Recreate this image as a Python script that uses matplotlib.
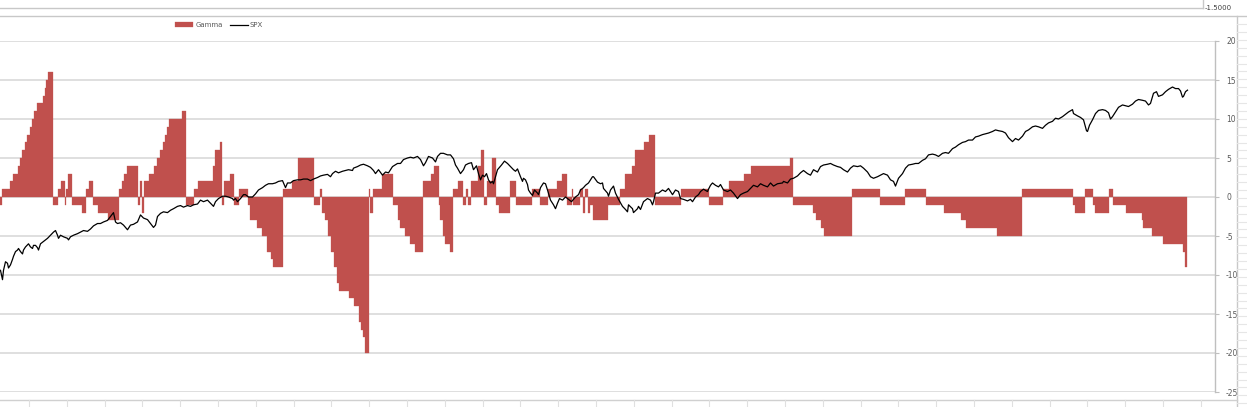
import numpy as np
import matplotlib
matplotlib.use("Agg")
import matplotlib.pyplot as plt
from matplotlib.lines import Line2D

W, H = 1247, 407

# Gamma as run-length steps: level and number of trading days it holds
gamma_level = [-1, 1, 2, 3, 4, 5, 6, 7, 8, 9, 10, 11, 12, 13, 14, 15, 16,
               -1, 1, 2, -1, 1, 3, -1, -2, 1, 2, -1, -2, -3, 1, 2, 3, 4,
               -1, 2, -2, 2, 3, 4, 5, 6, 7, 8, 9, 10, 11, -1, 1, 2, 4, 6, 7,
               -1, 2, 3, -1, 1, -1, -3, -4, -5, -7, -8, -9, 1, 2, 5, -1, 1,
               -2, -3, -5, -7, -9, -11, -12, -13, -14, -16, -17, -18, -20,
               1, -2, 1, 3, -1, -3, -4, -5, -6, -7, 2, 3, 4, -1, -3, -5, -6,
               -7, 1, 2, -1, 1, -1, 2, 4, 6, -1, 2, 5, -1, -2, 2, -1, 1, -1,
               1, 2, 3, -1, 1, -1, 1, -2, 1, -2, -1, -3, -1, 1, 3, 4, 6, 7,
               8, -1, 1, -1, 1, 2, 3, 4, 5, -1, -2, -3, -4, -5, 1, -1, 1, -1,
               -2, -3, -4, -5, 1, -1, -2, 1, -1, -2, 1, -1, -2, -3, -4, -5,
               -6, -7, -9]
gamma_days = [2, 8, 3, 5, 2, 2, 3, 2, 3, 2, 2, 3, 6, 2, 1, 2, 5,
              5, 3, 4, 1, 2, 4, 10, 4, 3, 4, 5, 10, 11, 3, 2, 3, 11,
              2, 2, 2, 5, 5, 3, 3, 3, 2, 2, 2, 13, 4, 8, 4, 15, 2, 5, 2,
              2, 6, 4, 5, 9, 2, 7, 5, 5, 4, 2, 10, 9, 6, 16, 6, 2,
              3, 3, 3, 3, 3, 2, 10, 5, 5, 2, 2, 2, 4,
              1, 3, 9, 11, 5, 2, 5, 5, 5, 8, 8, 3, 5, 1, 3, 2, 5,
              3, 5, 5, 3, 2, 3, 7, 3, 3, 3, 5, 4, 3, 11, 6, 16, 8, 8,
              9, 5, 5, 5, 1, 7, 3, 2, 3, 2, 3, 15, 12, 5, 7, 3, 9, 5,
              6, 26, 28, 14, 6, 15, 7, 39, 3, 20, 3, 5, 3, 28, 28, 25, 21, 18,
              17, 5, 31, 25, 51, 2, 10, 8, 2, 14, 4, 13, 16, 1, 9, 11,
              20, 2, 2]

# SPX, read on the chart's scale
spx_day = [0, 2, 3, 5, 7, 8, 10, 12, 13, 15, 17, 18, 20, 22, 23, 25, 28, 30, 32, 33,
           35, 37, 38, 40, 43, 47, 50, 53, 55, 57, 58, 60, 63, 67, 68, 70, 73, 77, 80,
           83, 87, 90, 93, 97, 100, 103, 107, 110, 113, 115, 117, 120, 123, 127, 130,
           133, 137, 140, 143, 147, 150, 153, 155, 157, 160, 163, 167, 170, 173, 177,
           180, 183, 187, 190, 193, 197,
           200, 203, 207, 210, 213, 215, 218, 222, 225, 228, 232, 233, 235, 237, 240,
           243, 245, 248, 252, 255, 258, 262, 265, 268, 272, 275, 278, 282, 283, 285,
           287, 290, 293, 297, 300, 303, 307, 310, 313, 317, 320, 323, 327, 330, 332,
           335, 338, 342, 345, 348, 352, 353, 357, 360, 363, 367, 370, 373, 375, 378,
           382, 385, 388, 392, 397,
           400, 403, 407, 410, 413, 417, 420, 423, 425, 428, 432, 435, 437, 440, 443,
           447, 450, 453, 455, 457, 460, 463, 465, 468, 471, 473, 476, 478, 480, 482,
           484, 486, 488, 490, 492, 493, 495, 497, 501, 504, 507, 510, 513, 515, 517,
           520, 522, 523, 525, 527, 528, 530, 532, 534, 537, 538, 540, 543, 545, 547,
           550, 553, 555, 557, 559, 562, 565, 568, 571, 573, 575, 578, 580, 583, 585,
           588, 592, 593, 597,
           600, 602, 603, 607, 608, 610, 613, 615, 618, 622, 625, 627, 628, 632, 633,
           637, 638, 640, 643, 647, 650, 652, 653, 655, 658, 662, 665, 668, 670, 672,
           675, 678, 680, 683, 687, 690, 692, 695, 698, 700, 703, 707, 708, 710, 712,
           715, 718, 720, 723, 727, 730, 733, 737, 740, 743, 747, 750, 753, 757, 760,
           763, 767, 770, 773, 777, 782, 783, 787, 790, 793, 797,
           800, 803, 807, 810, 813, 817, 820, 823, 827, 830, 833, 837, 840, 843, 847,
           850, 853, 857, 860, 863, 867, 870, 873, 877, 880, 883, 887, 890, 893, 895,
           898, 902, 905, 908, 912, 915, 918, 922, 925, 928, 932, 935, 938, 942, 945,
           948, 952, 955, 958, 962, 965, 968, 972, 975, 978, 982, 985, 988, 992, 995,
           998, 1002, 1005, 1008, 1012, 1015, 1018, 1022, 1025, 1028, 1032, 1035, 1038,
           1042, 1045, 1048, 1052, 1055, 1058, 1062, 1065, 1068, 1072, 1073, 1077, 1080,
           1083, 1086, 1087, 1089, 1092, 1095, 1098, 1102, 1105, 1108, 1110, 1112, 1115,
           1118, 1122, 1125, 1128, 1132, 1135, 1138, 1142, 1145, 1148, 1150, 1153, 1156,
           1158, 1162, 1165, 1168, 1172, 1175, 1178, 1180, 1182, 1183, 1185, 1187]
spx_val = [-9.4, -10.6, -9.4, -8.3, -8.5, -9.1, -8.7, -8.0, -7.6, -7.0, -6.8, -6.6, -7.0, -7.3, -6.8,
           -6.4, -6.0, -6.4, -6.6, -6.2, -6.2, -6.5, -6.8, -6.0, -5.7, -5.3, -4.9, -4.5, -4.3, -4.9,
           -5.3, -4.9, -5.1, -5.3, -5.5, -5.1, -4.9, -4.7, -4.5, -4.3, -4.4, -4.1, -3.7, -3.4, -3.4,
           -3.2, -3.0, -2.5, -2.0, -3.2, -3.4, -3.3, -3.6, -4.2, -3.6, -3.5, -3.2, -2.3, -2.7, -2.9,
           -3.4, -3.9, -3.6, -2.5, -2.1, -1.9, -2.0, -1.7, -1.5, -1.2, -1.1, -1.3, -1.1, -1.2, -1.0,
           -0.9,
           -0.4, -0.6, -0.4, -0.8, -1.2, -0.6, -0.2, 0.1, 0.1, 0.0, -0.2, -0.4, -0.2, -0.6, -0.2,
           0.3, 0.3, 0.0, 0.0, 0.4, 0.9, 1.2, 1.5, 1.7, 1.7, 1.8, 2.0, 2.1, 1.8, 1.2,
           1.8, 1.8, 2.1, 2.2, 2.2, 2.3, 2.3, 2.1, 2.3, 2.5, 2.7, 2.8, 2.9, 2.6, 3.0,
           3.3, 3.1, 3.3, 3.4, 3.5, 3.4, 3.7, 3.9, 4.1, 4.2, 4.0, 3.8, 3.4, 3.0, 3.5,
           2.8, 3.2, 3.1, 3.9, 4.3,
           4.3, 4.8, 5.0, 5.1, 5.0, 5.2, 4.8, 4.0, 4.4, 5.2, 5.0, 4.5, 5.2, 5.6, 5.6,
           5.4, 5.4, 4.9, 4.1, 3.7, 3.0, 3.5, 4.1, 4.3, 4.4, 3.5, 4.0, 3.0, 2.2, 2.8,
           2.6, 3.0, 2.2, 1.8, 2.0, 1.7, 2.6, 3.5, 4.1, 4.6, 4.3, 3.9, 3.5, 3.3, 3.6,
           2.6, 2.0, 2.4, 2.2, 1.6, 0.9, 0.5, 0.2, 0.9, 0.5, 0.3, 1.2, 1.8, 1.7, 0.9,
           -0.4, -1.0, -1.5, -0.8, -0.2, -0.4, 0.0, -0.3, -0.6, -0.3, 0.0, 0.3, 0.9, 1.2, 1.5,
           1.8, 2.6, 2.6, 1.9,
           1.7, 1.8, 1.1, 0.5, 0.1, 0.9, 1.4, 0.5, -0.3, -1.2, -1.6, -1.9, -1.0, -1.5, -2.0,
           -1.5, -1.2, -1.6, -0.6, -0.2, -0.4, -1.0, -0.6, 0.5, 0.5, 0.9, 0.7, 1.1, 0.7, 0.3,
           0.9, 0.7, -0.2, -0.3, -0.5, -0.3, -0.6, 0.0, 0.3, 0.7, 1.0, 0.7, 1.0, 1.5, 1.8,
           1.5, 1.3, 1.6, 0.9, 0.7, 0.9, 0.5, -0.2, 0.3, 0.5, 0.7, 1.1, 1.5, 1.3, 1.7,
           1.5, 1.3, 1.8, 1.4, 1.7, 1.8, 2.0, 1.8, 2.3, 2.4, 2.7,
           3.1, 3.4, 3.0, 2.8, 3.5, 3.2, 3.9, 4.1, 4.2, 4.3, 4.1, 3.9, 3.8, 3.5, 3.2,
           3.7, 4.0, 3.9, 4.0, 3.7, 3.2, 2.6, 2.4, 2.6, 2.8, 3.0, 2.8, 2.2, 2.0, 1.4,
           2.4, 3.0, 3.7, 4.1, 4.2, 4.3, 4.3, 4.7, 4.9, 5.4, 5.5, 5.4, 5.2, 5.6, 5.7,
           5.6, 6.2, 6.4, 6.7, 7.0, 7.1, 7.3, 7.3, 7.7, 7.8, 8.0, 8.1, 8.2, 8.4, 8.6,
           8.5, 8.4, 8.2, 7.6, 7.1, 7.5, 7.3, 7.8, 8.4, 8.6, 9.0, 9.1, 9.0,
           8.8, 9.2, 9.5, 9.7, 10.1, 10.0, 10.3, 10.6, 10.9, 11.2, 10.7, 10.4, 10.2,
           9.9, 8.5, 8.4, 9.2, 9.9, 10.7, 11.1, 11.2, 11.1, 10.8, 10.0, 10.3, 10.9,
           11.5, 11.8, 11.7, 11.6, 11.9, 12.3, 12.5, 12.4, 12.3, 11.8, 12.0, 13.3, 13.5,
           12.9, 13.1, 13.5, 13.8, 14.1, 13.9, 13.9, 13.6, 12.8, 12.9, 13.5, 13.7]

y_ticks = [20, 15, 10, 5, 0, -5, -10, -15, -20, -25]
cell_text = "-1.5000"

gamma = np.repeat(gamma_level, gamma_days)
days = np.arange(len(gamma))

fig = plt.figure(figsize=(W / 100, H / 100), dpi=100)
fig.patch.set_facecolor("white")
ax = fig.add_axes([0, 1 - 392 / H, 1215 / W, (392 - 41) / H])

bars = ax.bar(days, gamma, width=1.0, align="edge", color="#C0504D",
              edgecolor="#C0504D", linewidth=0.2, label="Gamma", zorder=2)
line, = ax.plot(np.array(spx_day) + 0.5, spx_val, color="black", lw=0.9,
                label="SPX", zorder=3)

ax.set_xlim(0, 1215)
ax.set_ylim(-25, 20)
ax.set_yticks(y_ticks)
ax.set_yticklabels([str(t) for t in y_ticks])
ax.yaxis.tick_right()
ax.tick_params(axis="y", length=3, width=0.8, color="#bfbfbf", labelsize=5.5,
               labelcolor="#595959", pad=5)
ax.set_xticks([])
ax.grid(axis="y", color="#d9d9d9", lw=1.2)
ax.set_axisbelow(True)
for s in ["top", "left", "bottom"]:
    ax.spines[s].set_visible(False)
ax.spines["right"].set_color("#bfbfbf")
ax.spines["right"].set_linewidth(1.0)

leg = ax.legend([bars, line], ["Gamma", "SPX"], loc="center",
                bbox_to_anchor=(219 / W, 1 - 25 / H),
                bbox_transform=fig.transFigure, ncol=2, frameon=False,
                fontsize=5, handlelength=2.6, handleheight=0.6,
                columnspacing=1.0, handletextpad=0.3)
for t in leg.get_texts():
    t.set_color("#595959")


# spreadsheet lines around the chart object
def fline(xs, ys, color="#c8c8c8", lw=1.0):
    fig.add_artist(Line2D([x / W for x in xs], [1 - y / H for y in ys],
                          transform=fig.transFigure, color=color, lw=lw))


fline([0, 1203], [8, 8])
fline([1203, 1203], [0, 8])
fline([0, W], [16, 16])
fline([1237, 1237], [16, H])
fline([0, 1237], [400, 400], color="#d0d0d0")
for k in range(33):
    x = 29 + 37.8 * k
    if x < 1237:
        fline([x, x], [400, H], color="#e0e0e0", lw=0.8)
for k in range(50):
    y = 24 + 7.9 * k
    if y < H:
        fline([1237, W], [y, y], color="#e6e6e6", lw=0.8)

fig.text(1232 / W, 1 - 8 / H, cell_text, fontsize=5, color="#404040",
         ha="right", va="center")

fig.savefig("out.png", dpi=100, facecolor="white")
